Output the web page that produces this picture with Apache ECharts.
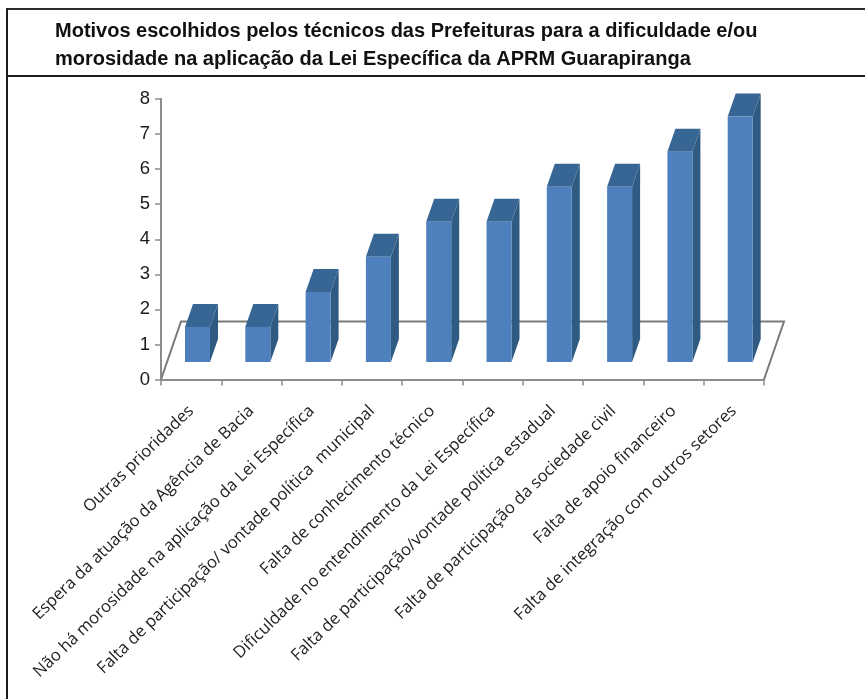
<!DOCTYPE html>
<html>
<head>
<meta charset="utf-8">
<style>html,body{margin:0;padding:0;background:#fff}#chart{width:865px;height:699px}</style>
<script src="https://cdn.jsdelivr.net/npm/echarts@6/dist/echarts.min.js"></script>
</head>
<body>
<div id="chart"></div>
<script>
const categories = [
  'Outras prioridades',
  'Espera da atuação da Agência de Bacia',
  'Não há morosidade na aplicação da Lei Específica',
  'Falta de participação/ vontade política  municipal',
  'Falta de conhecimento técnico',
  'Dificuldade no entendimento da Lei Específica',
  'Falta de participação/vontade política estadual',
  'Falta de participação da sociedade civil',
  'Falta de apoio financeiro',
  'Falta de integração com outros setores'
];
const counts = [1, 1, 2, 3, 4, 4, 5, 5, 6, 7];
const yTicks = ['0', '1', '2', '3', '4', '5', '6', '7', '8'];
const titleLines = [
  'Motivos escolhidos pelos técnicos das Prefeituras para a dificuldade e/ou',
  'morosidade na aplicação da Lei Específica da APRM Guarapiranga'
];

// Pseudo-3D geometry, in pixels
const FLOOR_DX = 20, FLOOR_DY = 58;   // depth of the floor parallelogram
const LIFT_X = 24, LIFT_Y = 17.5;     // bar foot offset from the category slot
const BAR_W = 25;
const DEPTH_X = 8, DEPTH_Y = 23;      // bar extrusion

function renderFloor(params, api) {
  const a = api.coord([0, 0]);
  const slot = api.size([1, 0])[0];
  const left = a[0] - slot / 2;
  const right = left + slot * categories.length;
  const y = a[1];
  return {
    type: 'polyline',
    shape: { points: [[left, y], [left + FLOOR_DX, y - FLOOR_DY], [right + FLOOR_DX, y - FLOOR_DY], [right, y]] },
    style: { fill: null, stroke: '#7a7a7a', lineWidth: 2 }
  };
}

function renderBar(params, api) {
  const base = api.coord([api.value(0), 0]);
  const top = api.coord([api.value(0), api.value(1)]);
  const slot = api.size([1, 0])[0];
  const x0 = base[0] - slot / 2 + LIFT_X;
  const x1 = x0 + BAR_W;
  const yb = base[1] - LIFT_Y;
  const yt = top[1] - LIFT_Y;
  return {
    type: 'group',
    children: [
      { type: 'polygon', shape: { points: [[x1, yt], [x1 + DEPTH_X, yt - DEPTH_Y], [x1 + DEPTH_X, yb - DEPTH_Y], [x1, yb]] },
        style: { fill: '#2f5a82' } },
      { type: 'polygon', shape: { points: [[x0, yt], [x0 + DEPTH_X, yt - DEPTH_Y], [x1 + DEPTH_X, yt - DEPTH_Y], [x1, yt]] },
        style: { fill: '#376695' } },
      { type: 'rect', shape: { x: x0, y: yt, width: BAR_W, height: yb - yt },
        style: { fill: '#4d80bd' } }
    ]
  };
}

const chart = echarts.init(document.getElementById('chart'), null, { renderer: 'canvas' });
chart.setOption({
  animation: false,
  backgroundColor: '#ffffff',
  grid: { left: 161, top: 99, width: 603, height: 280.5, containLabel: false },
  graphic: [
    { type: 'line', shape: { x1: 6, y1: 9, x2: 865, y2: 9 }, style: { stroke: '#2a2a2a', lineWidth: 2 } },
    { type: 'line', shape: { x1: 7, y1: 76, x2: 865, y2: 76 }, style: { stroke: '#1c1c1c', lineWidth: 2 } },
    { type: 'line', shape: { x1: 7, y1: 9, x2: 7, y2: 699 }, style: { stroke: '#1c1c1c', lineWidth: 2 } },
    { type: 'text', left: 55, top: 21, style: { text: titleLines[0], fill: '#111', fontFamily: 'Liberation Sans', fontWeight: 'bold', fontSize: 20 } },
    { type: 'text', left: 55, top: 49, style: { text: titleLines[1], fill: '#111', fontFamily: 'Liberation Sans', fontWeight: 'bold', fontSize: 20 } }
  ],
  xAxis: {
    type: 'category',
    data: categories,
    axisLine: { lineStyle: { color: '#8c8c8c', width: 2 } },
    axisTick: { show: true, alignWithLabel: false, length: 6, lineStyle: { color: '#8c8c8c', width: 1.5 } },
    axisLabel: {
      interval: 0, rotate: 44, margin: 29, color: '#222',
      fontFamily: 'Open Sans', fontSize: 16.6
    }
  },
  yAxis: {
    type: 'value', min: 0, max: 8, interval: 1,
    splitLine: { show: false },
    axisLine: { show: true, lineStyle: { color: '#8c8c8c', width: 2 } },
    axisTick: { show: true, length: 6, lineStyle: { color: '#8c8c8c', width: 1.5 } },
    axisLabel: {
      margin: 11, color: '#1a1a1a', fontFamily: 'Liberation Sans', fontSize: 18.5,
      formatter: v => yTicks[v]
    }
  },
  series: [
    { type: 'custom', name: 'floor', data: [[0, 0]], renderItem: renderFloor, encode: { x: 0, y: 1 }, z: 1, clip: false, silent: true },
    { type: 'custom', name: 'Motivos', data: counts.map((v, i) => [i, v]), renderItem: renderBar, encode: { x: 0, y: 1 }, z: 2, clip: false }
  ]
});
</script>
</body>
</html>
